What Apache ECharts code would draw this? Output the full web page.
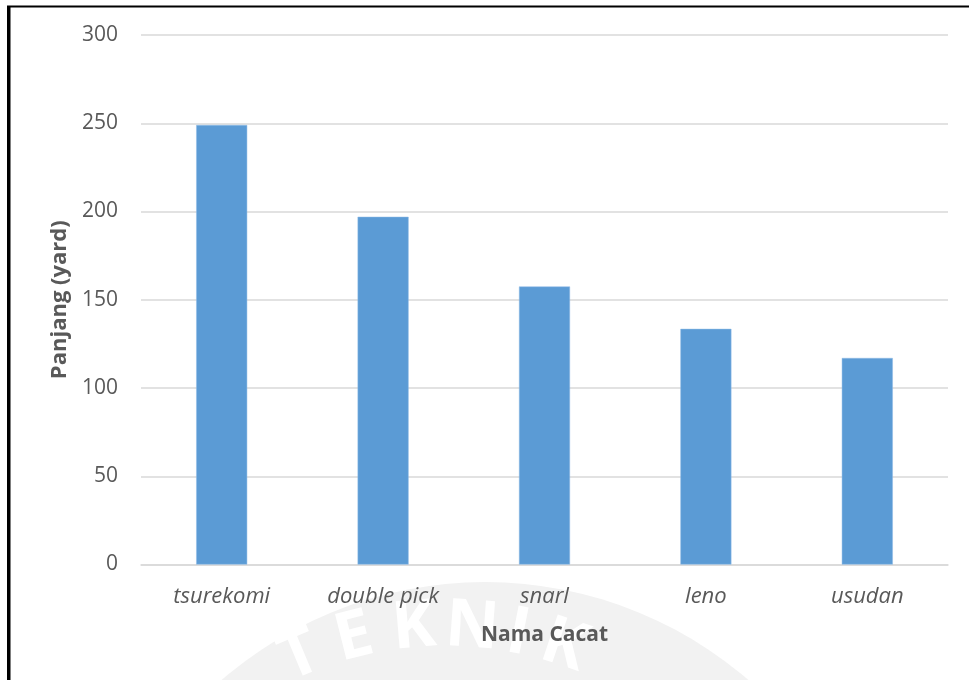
<!DOCTYPE html>
<html lang="en">
<head>
  <meta charset="UTF-8">
  <title>Panjang Cacat</title>
  <script src="https://cdn.jsdelivr.net/npm/echarts@6/dist/echarts.min.js"></script>
  <style>
    html, body {
      margin: 0;
      padding: 0;
      background: #fff;
    }
    #container {
      width: 969px;
      height: 680px;
    }
  </style>
</head>
<body>
  <div id="container"></div>
  <script>
    // data
    const categories = ['tsurekomi', 'double pick', 'snarl', 'leno', 'usudan'];
    const lengths = [249, 197, 157.5, 133.5, 117];
    const yTicks = [0, 50, 100, 150, 200, 250, 300];

    const watermarkLetters = ['T', 'E', 'K', 'N', 'I', 'K'];
    const letterX = [300, 354, 414, 472, 518, 564];

    const textColor = '#595959';
    const font = '"Open Sans", sans-serif';

    // watermark letters along an arc
    const arcCx = 445, arcCy = 1002, arcR = 375;
    const letters = watermarkLetters.map((ch, i) => {
      const a = Math.asin((letterX[i] - arcCx) / arcR);
      return {
        type: 'text',
        z: -9,
        x: arcCx + arcR * Math.sin(a),
        y: arcCy - arcR * Math.cos(a),
        rotation: -a,
        style: {
          text: ch,
          fill: '#fff',
          font: 'bold 66px "Open Sans", sans-serif',
          align: 'center',
          verticalAlign: 'middle'
        }
      };
    });

    const chart = echarts.init(document.getElementById('container'));

    chart.setOption({
      animation: false,
      backgroundColor: '#fff',
      textStyle: { fontFamily: font },
      graphic: [
        // faint watermark disc
        {
          type: 'circle',
          z: -10,
          shape: { cx: 485, cy: 985, r: 403 },
          style: { fill: '#f2f2f2' }
        },
        ...letters,
        // black frame on the left and top
        { type: 'rect', z: 10, shape: { x: 7, y: 6, width: 3.5, height: 680 }, style: { fill: '#000' } },
        { type: 'rect', z: 10, shape: { x: 7, y: 5.5, width: 970, height: 2 }, style: { fill: '#000' } }
      ],
      grid: {
        left: 141,
        right: 21,
        top: 35,
        bottom: 115.5
      },
      xAxis: {
        type: 'category',
        data: categories,
        name: 'Nama Cacat',
        nameLocation: 'middle',
        nameGap: 60,
        nameTextStyle: {
          color: textColor,
          fontSize: 21,
          fontWeight: 'bold',
          fontFamily: font
        },
        axisLine: { lineStyle: { color: '#d9d9d9', width: 1.5 } },
        axisTick: { show: false },
        axisLabel: {
          color: textColor,
          fontSize: 22,
          fontStyle: 'italic',
          margin: 21,
          fontFamily: font
        }
      },
      yAxis: {
        type: 'value',
        min: yTicks[0],
        max: yTicks[yTicks.length - 1],
        interval: yTicks[1] - yTicks[0],
        name: 'Panjang (yard)',
        nameLocation: 'middle',
        nameGap: 70,
        nameTextStyle: {
          color: textColor,
          fontSize: 22,
          fontWeight: 'bold',
          fontFamily: font
        },
        axisLine: { show: false },
        axisTick: { show: false },
        axisLabel: {
          color: textColor,
          fontSize: 21,
          margin: 23,
          fontFamily: font
        },
        splitLine: { lineStyle: { color: '#d9d9d9', width: 1.5 } }
      },
      series: [{
        type: 'bar',
        data: lengths,
        barWidth: 51,
        itemStyle: {
          color: '#5b9bd5',
          borderColor: '#8fbbe6',
          borderWidth: 0.5
        }
      }]
    });
  </script>
</body>
</html>
